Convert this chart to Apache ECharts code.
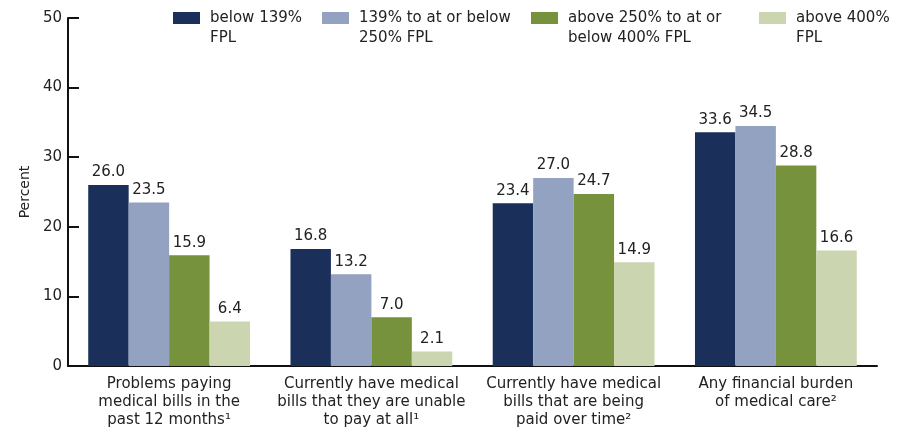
<!DOCTYPE html>
<html>
<head>
<meta charset="utf-8">
<script src="https://cdn.jsdelivr.net/npm/echarts@6/dist/echarts.min.js"></script>
<style>
  html, body { margin: 0; padding: 0; background: #fff; }
  #chart { width: 907px; height: 429px; }
</style>
</head>
<body>
<div id="chart"></div>
<script>
// Financial burden of medical care by family income (% of FPL)
const categories = [
  'Problems paying\nmedical bills in the\npast 12 months¹',
  'Currently have medical\nbills that they are unable\nto pay at all¹',
  'Currently have medical\nbills that are being\npaid over time²',
  'Any financial burden\nof medical care²'
];
const seriesNames = [
  'below 139%\nFPL',
  '139% to at or below\n250% FPL',
  'above 250% to at or\nbelow 400% FPL',
  'above 400%\nFPL'
];
const below139 = [26.0, 16.8, 23.4, 33.6];
const from139to250 = [23.5, 13.2, 27.0, 34.5];
const from250to400 = [15.9, 7.0, 24.7, 28.8];
const above400 = [6.4, 2.1, 14.9, 16.6];
const yTicks = [0, 10, 20, 30, 40, 50];

const values = [below139, from139to250, from250to400, above400];
const colors = ['#1b2f5b', '#93a2c0', '#77923c', '#cbd5b0'];
const legendLeft = [173, 322, 531, 759];
const FONT = 'DejaVu Sans';
const LEGEND_LINE = 20;

const chart = echarts.init(document.getElementById('chart'), null, { renderer: 'canvas' });

// Each legend entry is its own component so the two-line labels can sit
// at fixed columns; a leading blank line keeps the first text line level
// with the colour swatch.
const legends = seriesNames.map((name, i) => ({
  data: [name],
  left: legendLeft[i],
  top: 12 + 6 - 1.5 * LEGEND_LINE,
  padding: 0,
  itemWidth: 27,
  itemHeight: 12,
  icon: 'rect',
  selectedMode: false,
  formatter: n => '\n' + n,
  textStyle: {
    fontFamily: FONT,
    fontSize: 15,
    color: '#222',
    lineHeight: LEGEND_LINE,
    padding: [0, 0, 0, 5]
  }
}));

chart.setOption({
  animation: false,
  color: colors,
  legend: legends,
  grid: { left: 68, right: 30, top: 18, bottom: 61, containLabel: false },
  xAxis: {
    type: 'category',
    data: categories,
    axisLine: { lineStyle: { color: '#111', width: 2 } },
    axisTick: { show: false },
    axisLabel: {
      interval: 0,
      margin: 9,
      fontFamily: FONT,
      fontSize: 15,
      lineHeight: 18,
      color: '#222'
    }
  },
  yAxis: {
    type: 'value',
    min: yTicks[0],
    max: yTicks[yTicks.length - 1],
    interval: 10,
    name: 'Percent',
    nameLocation: 'middle',
    nameGap: 35,
    nameTextStyle: { fontFamily: FONT, fontSize: 14, color: '#222' },
    axisLine: { show: true, lineStyle: { color: '#111', width: 2 } },
    axisTick: { show: true, inside: true, length: 11, lineStyle: { color: '#111', width: 2 } },
    splitLine: { show: false },
    axisLabel: { margin: 6, fontFamily: FONT, fontSize: 15, color: '#222' }
  },
  series: values.map((vals, i) => ({
    name: seriesNames[i],
    type: 'bar',
    data: vals,
    barGap: '0%',
    barCategoryGap: '20%',
    itemStyle: { color: colors[i] },
    label: {
      show: true,
      position: 'top',
      distance: 5,
      formatter: p => p.value.toFixed(1),
      fontFamily: FONT,
      fontSize: 15,
      color: '#222'
    }
  }))
});
</script>
</body>
</html>
